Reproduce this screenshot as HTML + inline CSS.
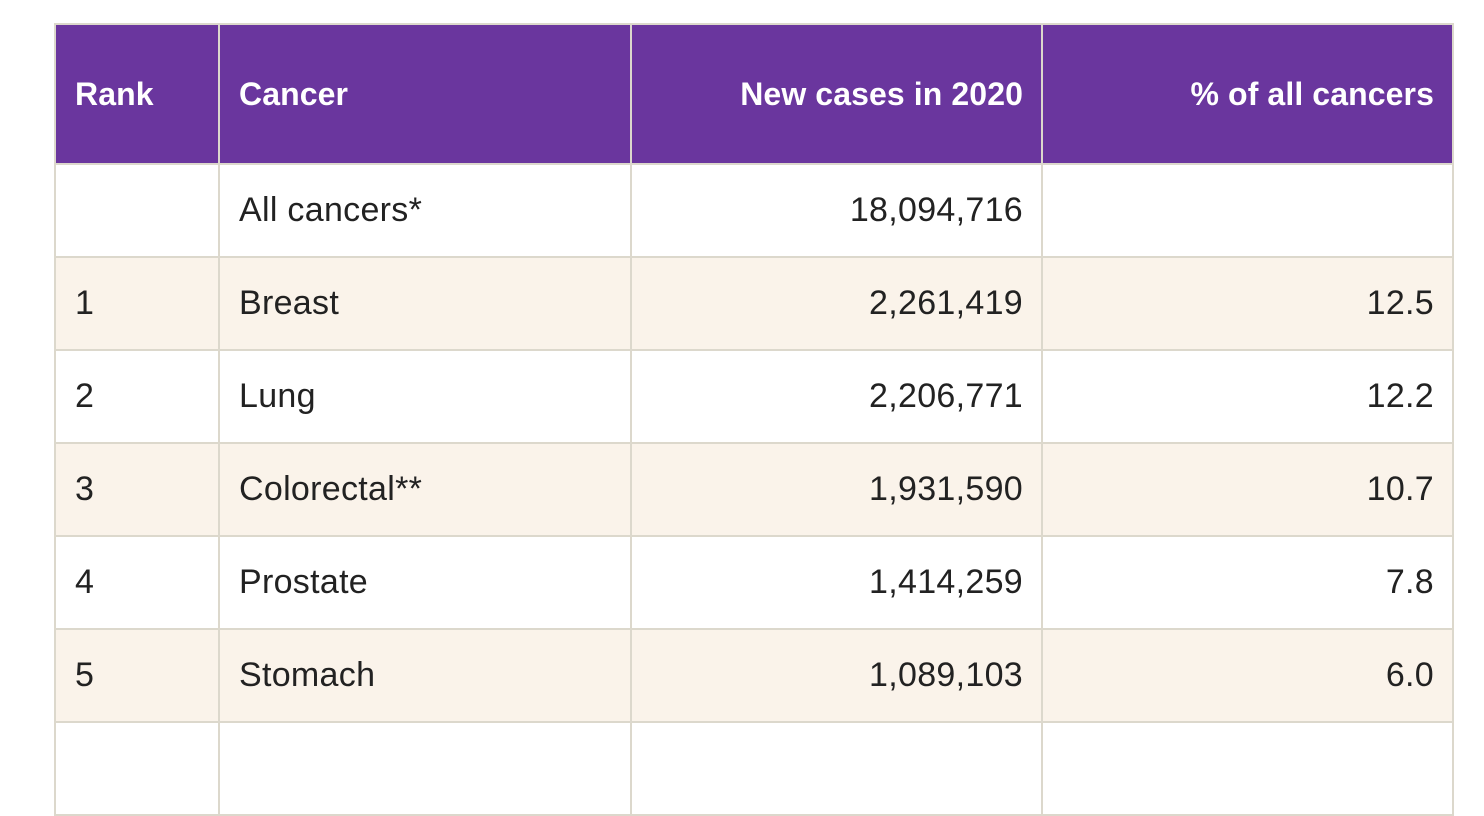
<!DOCTYPE html>
<html><head><meta charset="utf-8"><style>
body{margin:0;width:1484px;height:742px;overflow:hidden;background:#fff;font-family:"Liberation Sans",Arial,sans-serif;}
table{position:absolute;left:54px;top:23px;border-collapse:collapse;table-layout:fixed;}
td,th{border:2px solid #dcd8cc;font-size:34px;font-weight:normal;padding:0 18px 0 19px;color:#222;letter-spacing:0.3px}
th{background:#6a369e;color:#fff;height:138px;font-size:32px;font-weight:bold;letter-spacing:0.1px}
td{height:91px;}
.r{text-align:right}.l{text-align:left}
tr.alt td{background:#faf3ea}
</style></head><body>
<table>
<colgroup><col style="width:164px"><col style="width:412px"><col style="width:411px"><col style="width:411px"></colgroup>
<tr><th class="l">Rank</th><th class="l">Cancer</th><th class="r">New cases in 2020</th><th class="r">% of all cancers</th></tr>
<tr><td></td><td>All cancers*</td><td class="r">18,094,716</td><td></td></tr>
<tr class="alt"><td>1</td><td>Breast</td><td class="r">2,261,419</td><td class="r">12.5</td></tr>
<tr><td>2</td><td>Lung</td><td class="r">2,206,771</td><td class="r">12.2</td></tr>
<tr class="alt"><td>3</td><td>Colorectal**</td><td class="r">1,931,590</td><td class="r">10.7</td></tr>
<tr><td>4</td><td>Prostate</td><td class="r">1,414,259</td><td class="r">7.8</td></tr>
<tr class="alt"><td>5</td><td>Stomach</td><td class="r">1,089,103</td><td class="r">6.0</td></tr>
<tr><td></td><td></td><td></td><td></td></tr>
</table>
</body></html>
